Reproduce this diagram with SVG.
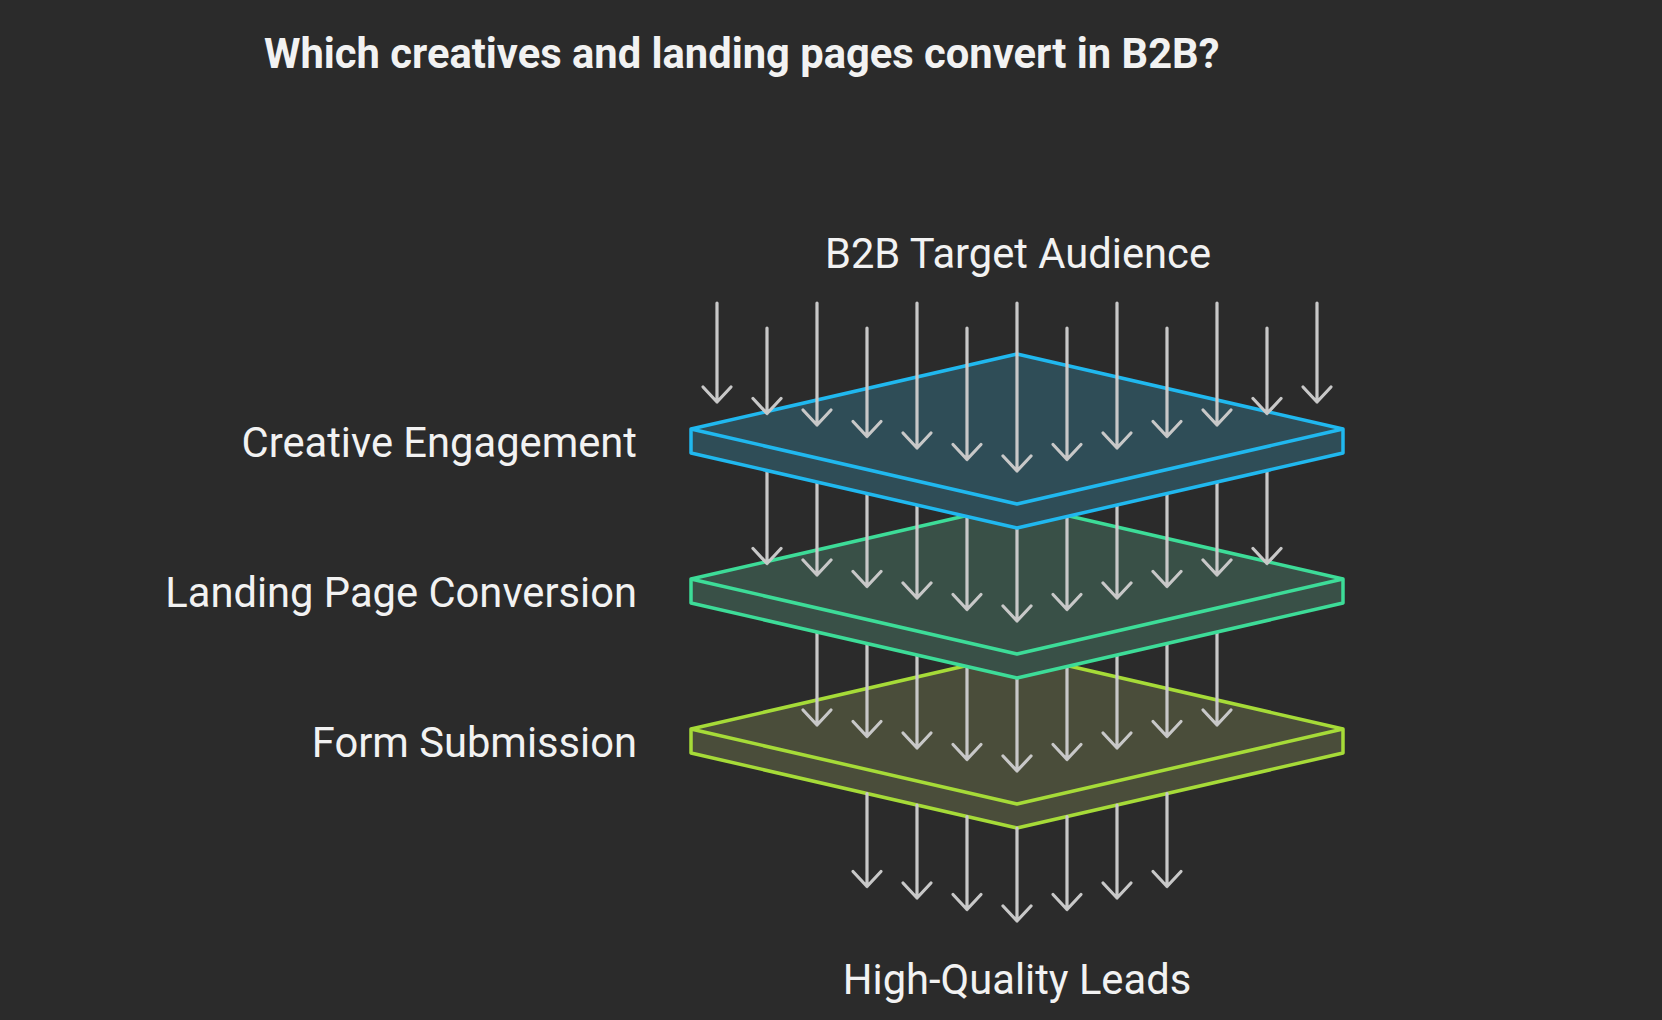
<svg xmlns="http://www.w3.org/2000/svg" width="1662" height="1020" viewBox="0 0 1662 1020">
<style>
.bg{fill:#2b2b2b}
.title{font-family:Roboto,"Liberation Sans",sans-serif;font-weight:700;font-size:41.7px;fill:#f2f2f2}
.lbl{font-family:Roboto,"Liberation Sans",sans-serif;font-size:41.7px;fill:#f2f2f2}
.arr{fill:none;stroke:#c8c8c8;stroke-width:3.2;stroke-linecap:round;stroke-linejoin:round}
.edge{stroke-width:3.5;stroke-linejoin:round}
.l1{fill:#2f4d57;stroke:#20b8ef}
.l2{fill:#395047;stroke:#3ddc98}
.l3{fill:#4a4d3a;stroke:#a6db38}
</style>
<rect class="bg" x="0" y="0" width="1662" height="1020"/>
<text class="title" x="264" y="68">Which creatives and landing pages convert in B2B?</text>
<g id="label-audience"><text class="lbl" x="1018" y="268" text-anchor="middle">B2B Target Audience</text></g>
<g id="label-creative"><text class="lbl" x="637" y="457" text-anchor="end">Creative Engagement</text></g>
<g id="label-landing"><text class="lbl" x="637" y="607" text-anchor="end">Landing Page Conversion</text></g>
<g id="label-form"><text class="lbl" x="637" y="757" text-anchor="end">Form Submission</text></g>
<g id="label-leads"><text class="lbl" x="1017" y="994" text-anchor="middle">High-Quality Leads</text></g>

<g id="layer3">
<path class="edge l3" d="M691,729 L1017,654 L1343,729 L1343,753 L1017,828 L691,753 Z"/>
<path class="edge l3" fill="none" d="M691,729 L1017,804 L1343,729"/>
</g>
<g id="connectors-out" class="arr">
<path d="M867,793.5 V886.5 M853,871.5 L867,886.5 L881,871.5"/>
<path d="M917,805 V898 M903,883 L917,898 L931,883"/>
<path d="M967,816.5 V909.5 M953,894.5 L967,909.5 L981,894.5"/>
<path d="M1017,828 V921 M1003,906 L1017,921 L1031,906"/>
<path d="M1067,816.5 V909.5 M1053,894.5 L1067,909.5 L1081,894.5"/>
<path d="M1117,805 V898 M1103,883 L1117,898 L1131,883"/>
<path d="M1167,793.5 V886.5 M1153,871.5 L1167,886.5 L1181,871.5"/>
</g>
<g id="connectors-2-3" class="arr">
<path d="M817,632 V725 M803,710 L817,725 L831,710"/>
<path d="M867,643.5 V736.5 M853,721.5 L867,736.5 L881,721.5"/>
<path d="M917,655 V748 M903,733 L917,748 L931,733"/>
<path d="M967,666.5 V759.5 M953,744.5 L967,759.5 L981,744.5"/>
<path d="M1017,678 V771 M1003,756 L1017,771 L1031,756"/>
<path d="M1067,666.5 V759.5 M1053,744.5 L1067,759.5 L1081,744.5"/>
<path d="M1117,655 V748 M1103,733 L1117,748 L1131,733"/>
<path d="M1167,643.5 V736.5 M1153,721.5 L1167,736.5 L1181,721.5"/>
<path d="M1217,632 V725 M1203,710 L1217,725 L1231,710"/>
</g>
<g id="layer2">
<path class="edge l2" d="M691,579 L1017,504 L1343,579 L1343,603 L1017,678 L691,603 Z"/>
<path class="edge l2" fill="none" d="M691,579 L1017,654 L1343,579"/>
</g>
<g id="connectors-1-2" class="arr">
<path d="M767,470.5 V563.5 M753,548.5 L767,563.5 L781,548.5"/>
<path d="M817,482 V575 M803,560 L817,575 L831,560"/>
<path d="M867,493.5 V586.5 M853,571.5 L867,586.5 L881,571.5"/>
<path d="M917,505 V598 M903,583 L917,598 L931,583"/>
<path d="M967,516.5 V609.5 M953,594.5 L967,609.5 L981,594.5"/>
<path d="M1017,528 V621 M1003,606 L1017,621 L1031,606"/>
<path d="M1067,516.5 V609.5 M1053,594.5 L1067,609.5 L1081,594.5"/>
<path d="M1117,505 V598 M1103,583 L1117,598 L1131,583"/>
<path d="M1167,493.5 V586.5 M1153,571.5 L1167,586.5 L1181,571.5"/>
<path d="M1217,482 V575 M1203,560 L1217,575 L1231,560"/>
<path d="M1267,470.5 V563.5 M1253,548.5 L1267,563.5 L1281,548.5"/>
</g>
<g id="layer1">
<path class="edge l1" d="M691,429 L1017,354 L1343,429 L1343,453 L1017,528 L691,453 Z"/>
<path class="edge l1" fill="none" d="M691,429 L1017,504 L1343,429"/>
</g>
<g id="connectors-in" class="arr">
<path d="M717,303 V402 M703,387 L717,402 L731,387"/>
<path d="M767,328 V413.5 M753,398.5 L767,413.5 L781,398.5"/>
<path d="M817,303 V425 M803,410 L817,425 L831,410"/>
<path d="M867,328 V436.5 M853,421.5 L867,436.5 L881,421.5"/>
<path d="M917,303 V448 M903,433 L917,448 L931,433"/>
<path d="M967,328 V459.5 M953,444.5 L967,459.5 L981,444.5"/>
<path d="M1017,303 V471 M1003,456 L1017,471 L1031,456"/>
<path d="M1067,328 V459.5 M1053,444.5 L1067,459.5 L1081,444.5"/>
<path d="M1117,303 V448 M1103,433 L1117,448 L1131,433"/>
<path d="M1167,328 V436.5 M1153,421.5 L1167,436.5 L1181,421.5"/>
<path d="M1217,303 V425 M1203,410 L1217,425 L1231,410"/>
<path d="M1267,328 V413.5 M1253,398.5 L1267,413.5 L1281,398.5"/>
<path d="M1317,303 V402 M1303,387 L1317,402 L1331,387"/>
</g>
</svg>
